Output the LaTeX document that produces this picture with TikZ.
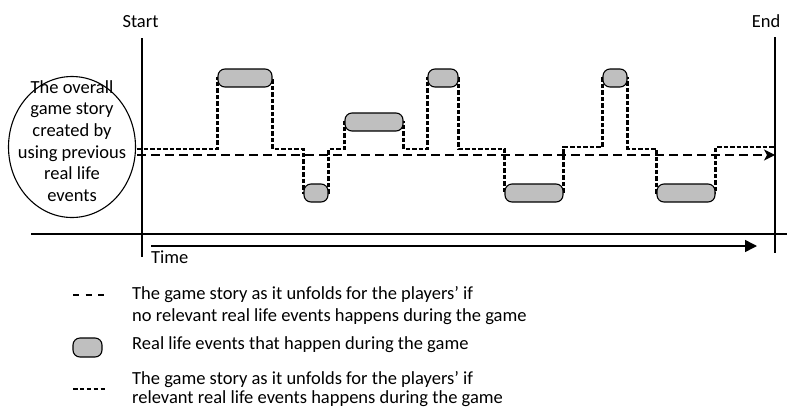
\documentclass[tikz,border=0pt]{standalone}
\usepackage{fontspec}
\setmainfont{Carlito}
\usetikzlibrary{arrows.meta,shapes.geometric,backgrounds}
\definecolor{eventgray}{RGB}{191,191,191}
\newcommand{\storyfont}{\fontsize{18.5pt}{21.6pt}\selectfont}

\begin{document}
\begin{tikzpicture}[x=1pt,y=-1pt,
  txt/.style={font=\storyfont, inner sep=0pt},
  axisline/.style={line width=1.3pt},
  event/.style={draw, line width=1.1pt, fill=eventgray, rounded corners=7pt,
    minimum height=18pt, inner sep=0pt},
  plainstory/.style={line width=1.2pt, dash pattern=on 9pt off 5pt},
  realstory/.style={line width=2.4pt, dash pattern=on 4.5pt off 2pt}]
\useasboundingbox (0,0) rectangle (787,408);

% start and end of the game
\coordinate (start top) at (142,38);
\coordinate (start bottom) at (142,257);
\coordinate (end top) at (775,37);
\coordinate (end bottom) at (775,253);
\node[txt, anchor=base] (start) at (140.5,27) {Start};
\node[txt, anchor=base] (end) at (766,27) {End};
\draw[axisline] (start top) -- (start bottom);
\draw[axisline] (end top) -- (end bottom);

% time axis
\coordinate (axis west) at (31,234);
\coordinate (axis east) at (787,234);
\draw[axisline] (axis west) -- (axis east);
\coordinate (time start) at (151,246);
\coordinate (time end) at (757,246);
\draw[line width=1.5pt, -{Triangle[length=12pt,width=12pt]}] (time start) -- (time end);
\node[txt, anchor=base west] (time) at (151,263) {Time};

% overall story
\node[draw, ellipse, line width=1.1pt, minimum width=127pt, minimum height=141pt] (story) at (72,147) {};
\node[txt, align=center] (storytext) at (72,141) {The overall\\game story\\created by\\using previous\\real life\\events};

% real life events
\node[event, minimum width=54pt] (ev1) at (245,78) {};
\node[event, minimum width=24pt] (ev2) at (316,193) {};
\node[event, minimum width=58pt] (ev3) at (374,122) {};
\node[event, minimum width=30pt] (ev4) at (443,78) {};
\node[event, minimum width=58pt] (ev5) at (534,193) {};
\node[event, minimum width=24pt] (ev6) at (615,78) {};
\node[event, minimum width=58pt] (ev7) at (686,193) {};

% story lines
\coordinate (base) at (137,155);
\coordinate (s0) at (137,149);
\coordinate (s1) at (137,147);
\draw[plainstory, -{Stealth[length=11pt,width=11pt,inset=3pt]}] (base) -- (base -| end top);
\begin{scope}[on background layer]
\draw[realstory] (s0) -| (ev1.west) -- (ev1.east) -- (ev1.east |- s0)
  -| (ev2.west) -- (ev2.east) -- (ev2.east |- s0)
  -| (ev3.west) -- (ev3.east) -- (ev3.east |- s0)
  -| (ev4.west) -- (ev4.east) -- (ev4.east |- s0)
  -| (ev5.west) -- (ev5.east) -- (ev5.east |- s1)
  -| (ev6.west) -- (ev6.east) -- (ev6.east |- s0)
  -| (ev7.west) -- (ev7.east) -- (ev7.east |- s1) -- (s1 -| end top);
\end{scope}

% legend
\coordinate (leg1 a) at (73,295);
\coordinate (leg1 b) at (107,295);
\draw[line width=1.1pt, dash pattern=on 6pt off 6.5pt] (leg1 a) -- (leg1 b);
\node[txt, anchor=base west, align=left] (leg1) at (132,321.5)
  {The game story as it unfolds for the players' if\\no relevant real life events happens during the game};
\node[event, minimum width=29pt, minimum height=19pt] (leg2 box) at (87.5,347.5) {};
\node[txt, anchor=base west] (leg2) at (132,349) {Real life events that happen during the game};
\coordinate (leg3 a) at (73,389);
\coordinate (leg3 b) at (107,389);
\draw[realstory, dash pattern=on 4.5pt off 2.4pt] (leg3 a) -- (leg3 b);
\node[txt, anchor=base west, align=left] (leg3) at (132,403)
  {The game story as it unfolds for the players' if\\[-2.6pt]relevant real life events happens during the game};
\end{tikzpicture}
\end{document}
